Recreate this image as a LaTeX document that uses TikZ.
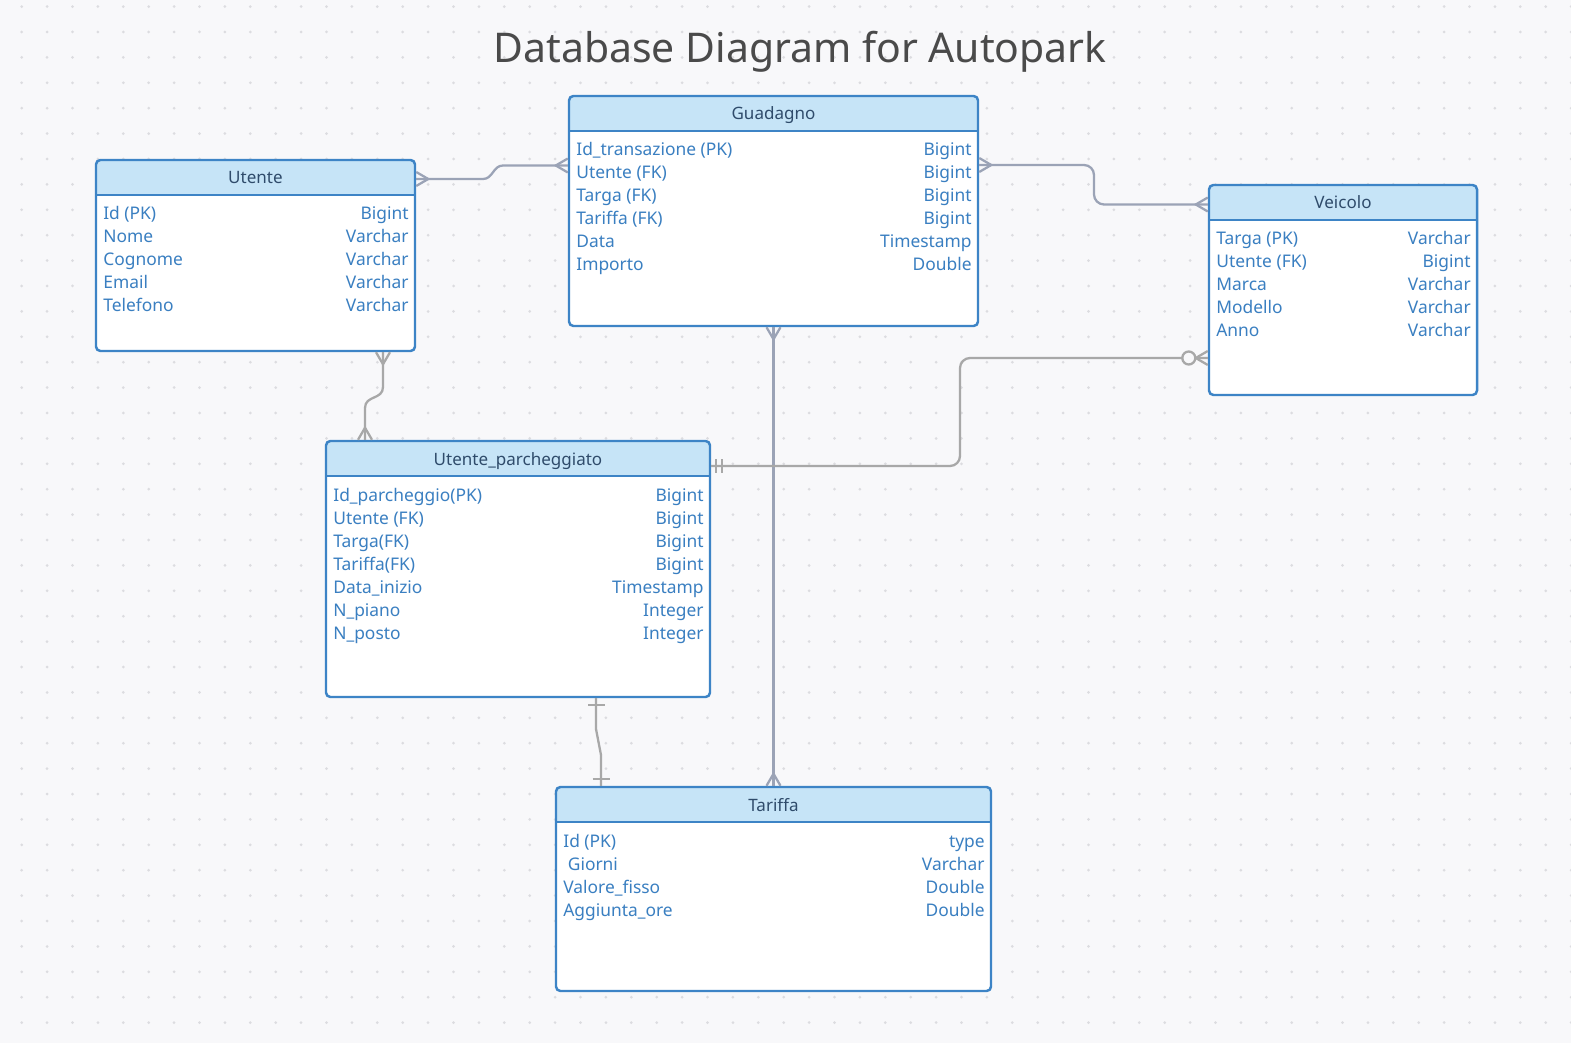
\documentclass[tikz,border=0pt]{standalone}
\usepackage{fontspec}
\setmainfont{Noto Sans}
\usetikzlibrary{fit}

\definecolor{bg}{HTML}{F8F8FA}
\definecolor{dotc}{HTML}{DCDCE0}
\definecolor{hdrfill}{HTML}{C6E4F7}
\definecolor{boxline}{HTML}{3D84C6}
\definecolor{fldtxt}{HTML}{3A7FC1}
\definecolor{hdrtxt}{HTML}{2F4B6B}
\definecolor{relblue}{HTML}{9BA3B6}
\definecolor{relgray}{HTML}{A8A8A8}
\definecolor{titlec}{HTML}{4A4A4A}

\tikzset{
  tbl/.style={draw=boxline,line width=1.4pt,rounded corners=2.5pt,inner sep=0pt},
  fld/.style={font=\fontsize{9.9}{11}\selectfont,text=fldtxt,inner sep=0pt},
  hdr/.style={font=\fontsize{9.7}{11}\selectfont,text=hdrtxt,inner sep=0pt},
  rel/.style={line width=1.3pt,relblue},
  relg/.style={line width=1.3pt,relgray},
  crow/.pic={\draw (0,-7) -- (12,0) -- (0,7);},
  onebar/.pic={\draw (7,-8.5) -- (7,8.5);},
  twobar/.pic={\draw (5,-7) -- (5,7) (11,-7) -- (11,7);},
  zeromany/.pic={\draw (0,-7) -- (12,0) -- (0,7); \draw[fill=bg] (19,0) circle[radius=0.13cm];},
}

% name, x1, y1, x2, y2, title, rows
\newcommand{\dbtable}[7]{%
  \fill[white,rounded corners=2.5pt] (#2,#3) rectangle (#4,#5);
  \begin{scope}
    \clip[rounded corners=2.5pt] (#2,#3) rectangle (#4,#5);
    \fill[hdrfill] (#2,#3) rectangle (#4,#3+35);
  \end{scope}
  \draw[boxline,line width=1.4pt] (#2,#3+35) -- (#4,#3+35);
  \node[hdr,anchor=base] (#1-title) at ({(#2+#4)/2},#3+24) {#6};
  \foreach \fname/\ftype [count=\i] in {#7} {
    \node[fld,anchor=base west] (#1-f\i) at (#2+7,#3+37+23*\i) {\fname};
    \node[fld,anchor=base east] (#1-t\i) at (#4-6,#3+37+23*\i) {\ftype};
  }
  \node[tbl,fit={(#2,#3) (#4,#5)}] (#1) {};
}

\begin{document}
\begin{tikzpicture}[x=0.02cm,y=-0.02cm]
  \fill[bg] (0,0) rectangle (1571,1043);
  \useasboundingbox (0,0) rectangle (1571,1043);
  \foreach \x in {0,...,61}
    \foreach \y in {0,...,40}
      \fill[dotc] (21.7+25.4*\x,6.6+25.4*\y) circle[radius=0.03cm];

  \node[font=\fontsize{23.3}{28}\selectfont,text=titlec,anchor=base] (title) at (800,62.5) {Database Diagram for Autopark};

  \dbtable{utente}{96}{160}{415}{351}{Utente}
    {Id (PK)/Bigint,Nome/Varchar,Cognome/Varchar,Email/Varchar,Telefono/Varchar}
  \dbtable{guadagno}{569}{96}{978}{326}{Guadagno}
    {Id\_transazione (PK)/Bigint,Utente (FK)/Bigint,Targa (FK)/Bigint,Tariffa (FK)/Bigint,Data/Timestamp,Importo/Double}
  \dbtable{veicolo}{1209}{185}{1477}{395}{Veicolo}
    {Targa (PK)/Varchar,Utente (FK)/Bigint,Marca/Varchar,Modello/Varchar,Anno/Varchar}
  \dbtable{upark}{326}{441}{710}{697}{Utente\_parcheggiato}
    {Id\_parcheggio(PK)/Bigint,Utente (FK)/Bigint,Targa(FK)/Bigint,Tariffa(FK)/Bigint,Data\_inizio/Timestamp,N\_piano/Integer,N\_posto/Integer}
  \dbtable{tariffa}{556}{787}{991}{991}{Tariffa}
    {Id (PK)/type,{\ Giorni}/Varchar,Valore\_fisso/Double,Aggiunta\_ore/Double}

  \draw[rel] (utente.east |- 0,179) -- (483,179) .. controls (493,179) and (493,165.5) .. (503,165.5) -- (guadagno.west |- 0,165.5);
  \pic[rel] at (utente.east |- 0,179) {crow};
  \pic[rel,rotate=180] at (guadagno.west |- 0,165.5) {crow};

  \draw[rel,rounded corners=5.7pt] (guadagno.east |- 0,165) -- (1094,165) -- (1094,204.5) -- (veicolo.west |- 0,204.5);
  \pic[rel] at (guadagno.east |- 0,165) {crow};
  \pic[rel,rotate=180] at (veicolo.west |- 0,204.5) {crow};

  \draw[rel] (guadagno.south) -- (tariffa.north);
  \pic[rel,rotate=-90] at (guadagno.south) {crow};
  \pic[rel,rotate=90] at (tariffa.north) {crow};

  \draw[relg] (utente.south -| 383,0) -- (383,387) .. controls (383,400) and (365,395) .. (365,408) -- (upark.north -| 365,0);
  \pic[relg,rotate=-90] at (utente.south -| 383,0) {crow};
  \pic[relg,rotate=90] at (upark.north -| 365,0) {crow};

  \draw[relg,rounded corners=5.7pt] (upark.east |- 0,466) -- (960,466) -- (960,358) -- (veicolo.west |- 0,358);
  \pic[relg] at (upark.east |- 0,466) {twobar};
  \pic[relg,rotate=180] at (veicolo.west |- 0,358) {zeromany};

  \draw[relg] (upark.south -| 596,0) -- (596,729) -- (601,755) -- (tariffa.north -| 601,0);
  \pic[relg,rotate=-90] at (upark.south -| 596,0) {onebar};
  \pic[relg,rotate=90] at (tariffa.north -| 601,0) {onebar};
\end{tikzpicture}
\end{document}
